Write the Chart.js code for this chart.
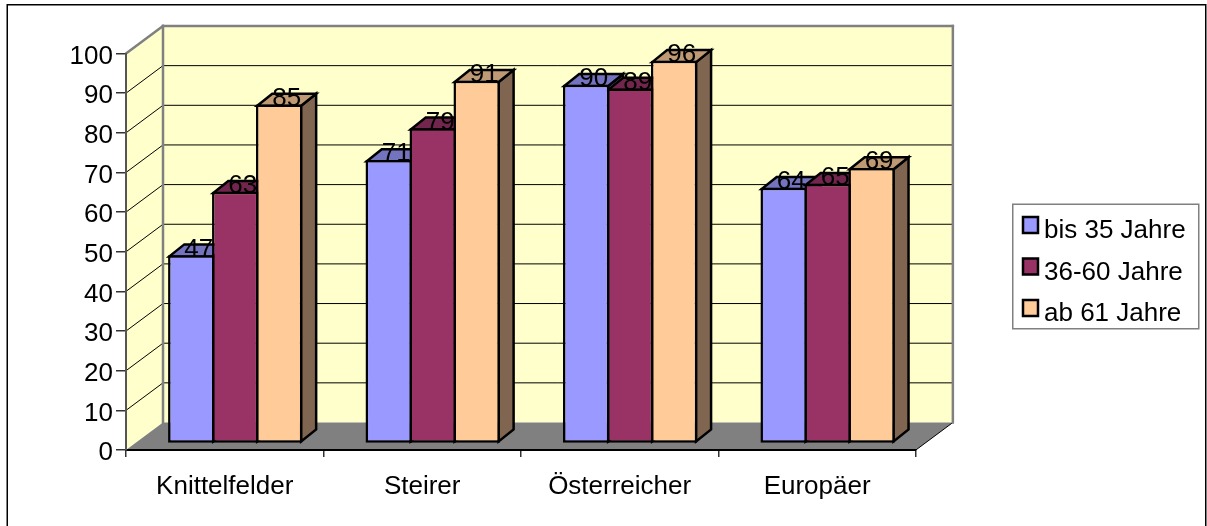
<!DOCTYPE html>
<html>
<head>
<meta charset="utf-8">
<title>Altersgruppen</title>
<style>
  html, body { margin: 0; padding: 0; background: #fff; overflow: hidden; }
  canvas { display: block; }
</style>
<script src="https://cdn.jsdelivr.net/npm/chart.js@4.4.0/dist/chart.umd.min.js"></script>
</head>
<body>
<canvas id="chart" width="1207" height="526"></canvas>
<script>
const categories = ['Knittelfelder', 'Steirer', 'Österreicher', 'Europäer'];
const seriesNames = ['bis 35 Jahre', '36-60 Jahre', 'ab 61 Jahre'];
const youngValues = [47, 71, 90, 64];
const middleValues = [63, 79, 89, 65];
const oldValues = [85, 91, 96, 69];
const yTicks = [0, 10, 20, 30, 40, 50, 60, 70, 80, 90, 100];

const frontColors = ['#9999FF', '#993366', '#FFCC99'];
const topColors = ['#7373BF', '#73264D', '#BF9973'];
const sideColors = ['#4D4D80', '#4D1A33', '#806650'];

const FONT = 'Arial, "Liberation Sans", sans-serif';
const FONT_SIZE = 26;

// depth of the box and of the bars, the bars stand in the middle of the floor
const wallDepth = { x: 37, y: -27.5 };
const barShift = { x: 10.5, y: -8.5 };
const barDepth = { x: 15, y: -12 };

function poly(ctx, points, fill, stroke, lineWidth) {
  ctx.beginPath();
  points.forEach((p, i) => i ? ctx.lineTo(p[0], p[1]) : ctx.moveTo(p[0], p[1]));
  ctx.closePath();
  if (fill) {
    ctx.fillStyle = fill;
    ctx.fill();
  }
  if (stroke) {
    ctx.strokeStyle = stroke;
    ctx.lineWidth = lineWidth;
    ctx.lineJoin = 'miter';
    ctx.stroke();
  }
}

function line(ctx, x1, y1, x2, y2, color, width) {
  ctx.beginPath();
  ctx.moveTo(x1, y1);
  ctx.lineTo(x2, y2);
  ctx.strokeStyle = color;
  ctx.lineWidth = width;
  ctx.stroke();
}

const box3d = {
  id: 'box3d',
  // white page, frame, walls, floor and grid behind everything
  beforeDraw(chart) {
    const { ctx, chartArea: a, scales: { y } } = chart;
    const dx = wallDepth.x, dy = wallDepth.y;
    ctx.save();
    ctx.fillStyle = '#fff';
    ctx.fillRect(0, 0, chart.width, chart.height);
    ctx.strokeStyle = '#000';
    ctx.lineWidth = 1.5;
    ctx.strokeRect(7.25, 4.75, 1198.5, 530);

    const top = y.getPixelForValue(100), bottom = y.getPixelForValue(0);
    poly(ctx, [[a.left, top], [a.left + dx, top + dy], [a.left + dx, bottom + dy], [a.left, bottom]], '#FFFFCC');
    poly(ctx, [[a.left + dx, top + dy], [a.right + dx, top + dy], [a.right + dx, bottom + dy], [a.left + dx, bottom + dy]], '#FFFFCC');

    yTicks.forEach(v => {
      if (v === 0 || v === 100) return;
      const py = y.getPixelForValue(v);
      line(ctx, a.left, py, a.left + dx, py + dy, '#000', 1);
      line(ctx, a.left + dx, py + dy, a.right + dx, py + dy, '#000', 1);
    });

    poly(ctx, [[a.left, bottom], [a.right, bottom], [a.right + dx, bottom + dy], [a.left + dx, bottom + dy]], '#808080');
    line(ctx, a.right, bottom, a.right + dx, bottom + dy, '#000', 1);

    // grey edges of the walls
    ctx.lineCap = 'square';
    line(ctx, a.left, top, a.left + dx, top + dy, '#808080', 2.5);
    line(ctx, a.left + dx, top + dy, a.right + dx, top + dy, '#808080', 2.5);
    line(ctx, a.left + dx, top + dy, a.left + dx, bottom + dy, '#808080', 2.5);
    line(ctx, a.right + dx, top + dy, a.right + dx, bottom + dy, '#808080', 2.5);
    ctx.restore();
  },
  // tops and sides of all bars first, left to right, the fronts come from the bar elements
  beforeDatasetsDraw(chart) {
    const ctx = chart.ctx;
    const dx = barDepth.x, dy = barDepth.y;
    ctx.save();
    ctx.translate(barShift.x, barShift.y);
    categories.forEach((c, j) => {
      chart.data.datasets.forEach((ds, i) => {
        const bar = chart.getDatasetMeta(i).data[j];
        const l = bar.x - bar.width / 2 + 1.25, r = bar.x + bar.width / 2 - 1.25;
        const t = bar.y + 1.25, b = bar.base - 1.25;
        poly(ctx, [[r, t], [r + dx, t + dy], [r + dx, b + dy], [r, b]], sideColors[i], '#000', 2.5);
        poly(ctx, [[l, t], [l + dx, t + dy], [r + dx, t + dy], [r, t]], topColors[i], '#000', 2.5);
      });
    });
  },
  afterDatasetsDraw(chart) {
    const ctx = chart.ctx;
    ctx.restore();
    ctx.save();
    ctx.font = FONT_SIZE + 'px ' + FONT;
    ctx.fillStyle = '#000';
    ctx.textAlign = 'center';
    ctx.textBaseline = 'alphabetic';
    chart.data.datasets.forEach((ds, i) => {
      chart.getDatasetMeta(i).data.forEach((bar, j) => {
        ctx.fillText(ds.data[j], bar.x + barShift.x + 7.5, bar.y + barShift.y + 1.5);
      });
    });
    ctx.restore();
  },
  // legend is placed away from the plot, like in the original
  afterLayout(chart) {
    const lg = chart.legend;
    const w = lg.width, h = lg.height;
    lg.left = 1022 - lg.options.labels.padding;
    lg.top = 218 - lg.options.labels.padding;
    lg.right = lg.left + w;
    lg.bottom = lg.top + h;
  },
  afterDraw(chart) {
    const ctx = chart.ctx;
    ctx.save();
    ctx.strokeStyle = '#808080';
    ctx.lineWidth = 1.5;
    ctx.strokeRect(1012.75, 204.25, 186, 124.5);
    chart.legend.legendHitBoxes.forEach((hit, i) => {
      ctx.fillStyle = frontColors[i];
      ctx.strokeStyle = '#000';
      ctx.lineWidth = 2.5;
      ctx.fillRect(1023, 217 + i * 41.5, 15, 16);
      ctx.strokeRect(1023, 217 + i * 41.5, 15, 16);
    });
    ctx.restore();
  }
};

new Chart(document.getElementById('chart'), {
  type: 'bar',
  data: {
    labels: categories,
    datasets: [youngValues, middleValues, oldValues].map((values, i) => ({
      label: seriesNames[i],
      data: values,
      backgroundColor: frontColors[i],
      borderColor: '#000',
      borderWidth: 2.5,
      borderSkipped: false,
      clip: false,
      base: -0.3,
      // slightly wider than the slot so neighbours share one border line
      categoryPercentage: 0.668,
      barPercentage: 1.055
    }))
  },
  options: {
    responsive: false,
    animation: false,
    layout: { padding: { top: 53.5, right: 102, bottom: 0, left: 0 } },
    plugins: {
      tooltip: { enabled: false },
      legend: {
        position: 'right',
        align: 'start',
        onClick: null,
        labels: {
          boxWidth: 9,
          boxHeight: 16,
          padding: 15.5,
          color: '#000',
          font: { family: FONT, size: FONT_SIZE },
          generateLabels: chart => chart.data.datasets.map((ds, i) => ({
            text: ds.label,
            fillStyle: 'transparent',
            strokeStyle: 'transparent',
            lineWidth: 0,
            datasetIndex: i
          }))
        }
      }
    },
    scales: {
      x: {
        afterFit: scale => { scale.height = 76; },
        grid: { drawOnChartArea: false, tickLength: 7, color: '#333', lineWidth: 1.5 },
        border: { color: '#000', width: 2 },
        ticks: { color: '#000', padding: 14, maxRotation: 0, font: { family: FONT, size: FONT_SIZE } }
      },
      y: {
        min: 0,
        max: 100,
        afterFit: scale => { scale.width = 126; },
        afterBuildTicks: scale => { scale.ticks = yTicks.map(v => ({ value: v })); },
        grid: { drawOnChartArea: false, tickLength: 10, color: '#333', lineWidth: 1.5 },
        border: { color: '#555', width: 2 },
        ticks: { color: '#000', padding: 3, labelOffset: 3, font: { family: FONT, size: FONT_SIZE } }
      }
    }
  },
  plugins: [box3d]
});
</script>
</body>
</html>
